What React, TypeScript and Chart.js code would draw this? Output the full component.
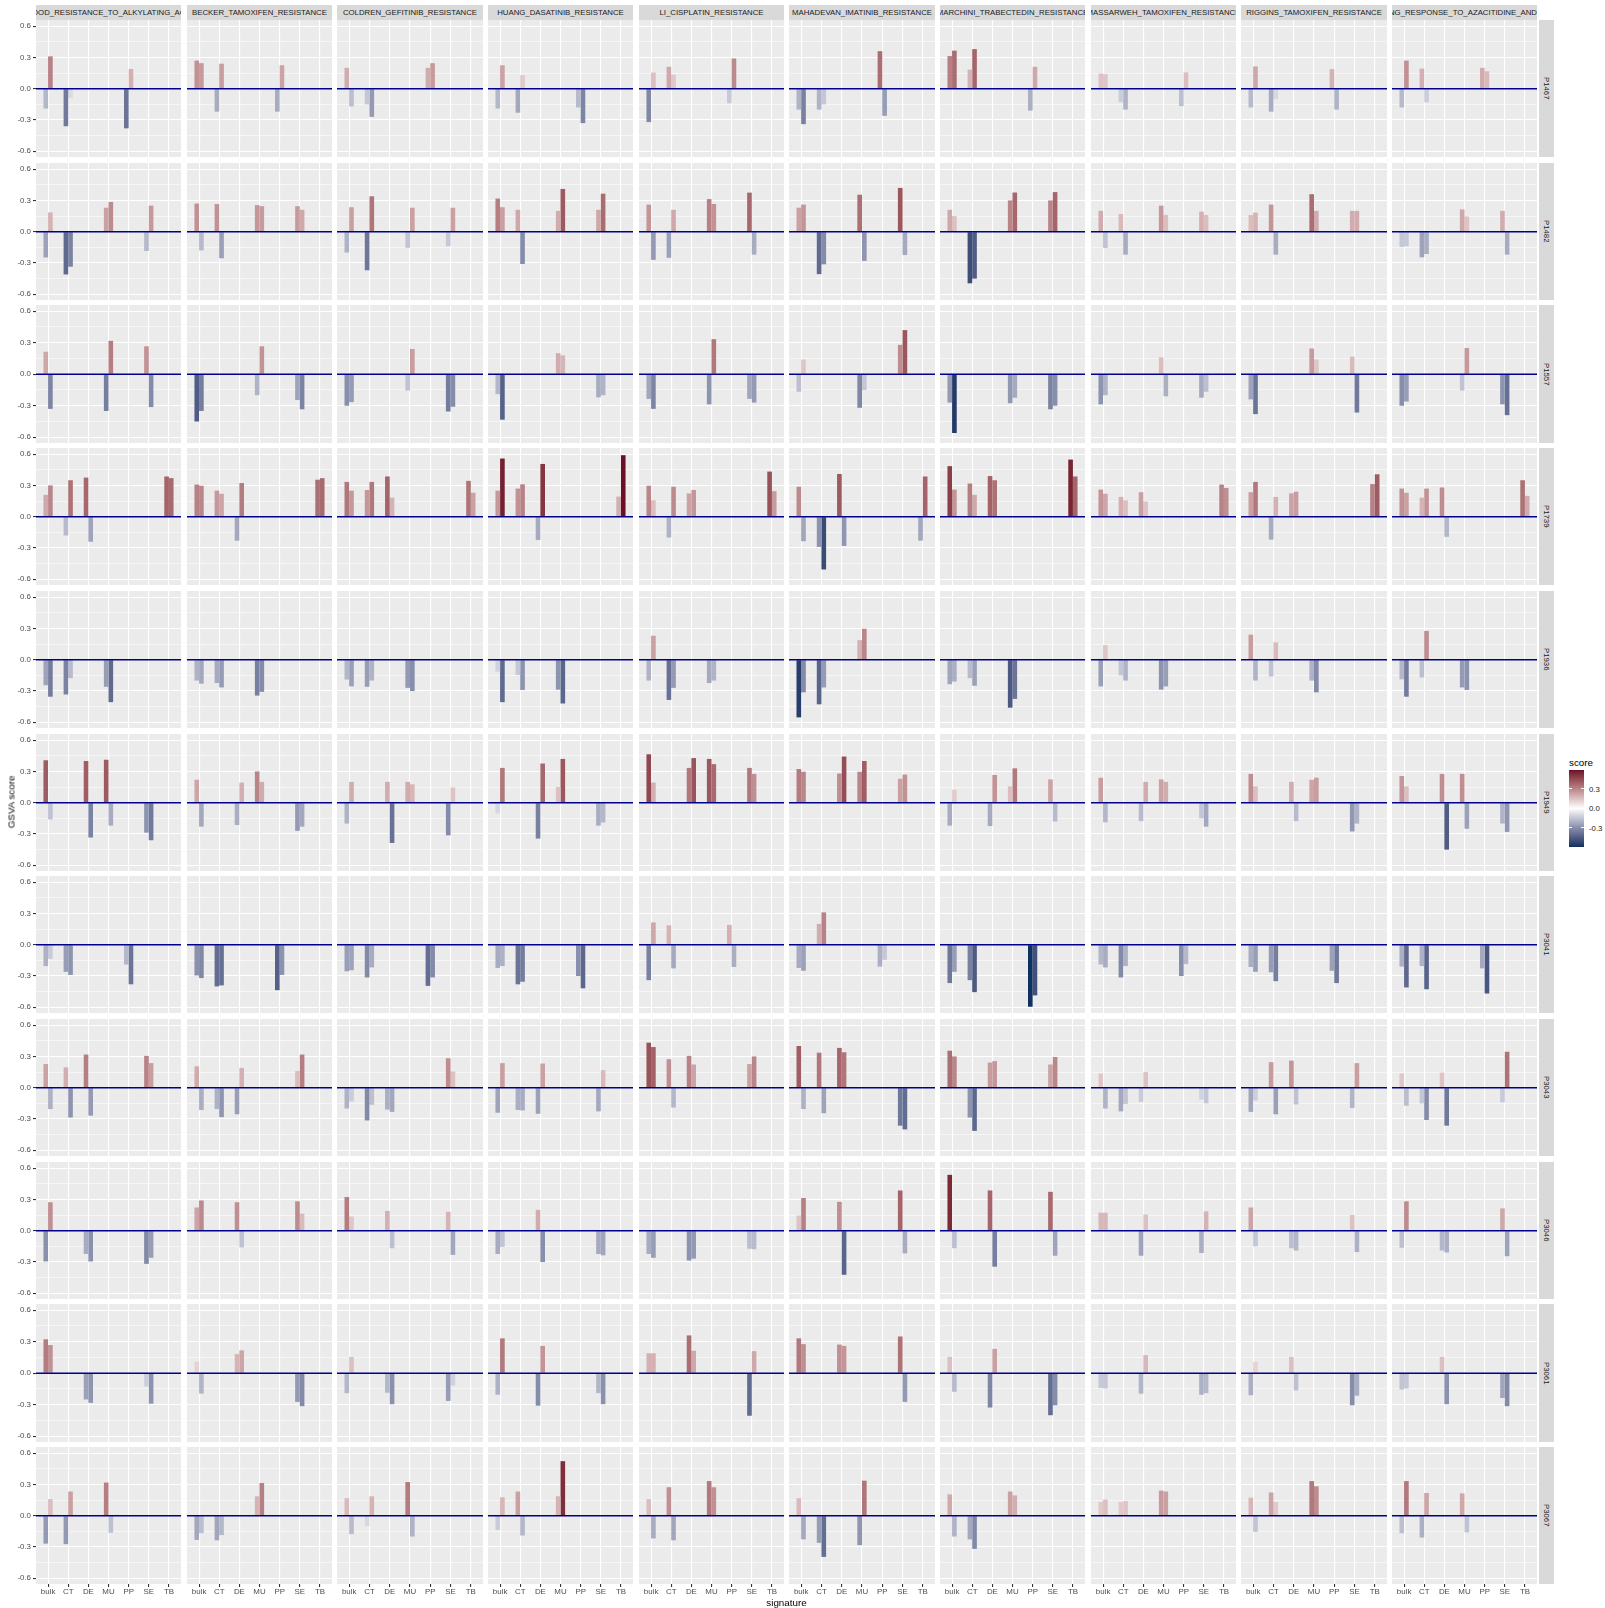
import React, { useEffect, useRef } from "react";
import { Chart, registerables } from "chart.js";

Chart.register(...registerables);

const FONT = "'Liberation Sans', Arial, Helvetica, sans-serif";

// ---------------- data ----------------
const SAMPLES = ["P1467", "P1482", "P1557", "P1739", "P1936", "P1949", "P3041", "P3043", "P3046", "P3061", "P3067"];
const SIGNATURES = [
  "IN_BLOOD_RESISTANCE_TO_ALKYLATING_AGENTS",
  "BECKER_TAMOXIFEN_RESISTANCE",
  "COLDREN_GEFITINIB_RESISTANCE",
  "HUANG_DASATINIB_RESISTANCE",
  "LI_CISPLATIN_RESISTANCE",
  "MAHADEVAN_IMATINIB_RESISTANCE",
  "MARCHINI_TRABECTEDIN_RESISTANCE",
  "MASSARWEH_TAMOXIFEN_RESISTANCE",
  "RIGGINS_TAMOXIFEN_RESISTANCE",
  "ZHONG_RESPONSE_TO_AZACITIDINE_AND_TSA",
];
const CATEGORIES = ["bulk", "CT", "DE", "MU", "PP", "SE", "TB"];
const Y_MAJOR_TICKS = [-0.6, -0.3, 0, 0.3, 0.6];
const Y_MINOR_TICKS = [-0.45, -0.15, 0.15, 0.45];
const LEGEND_TICKS = [0.3, 0, -0.3];

// each array: one row per sample (SAMPLES order), one value per category (CATEGORIES order)
// LEFT = first dodged bar, RIGHT = second dodged bar; 0 = no bar
const ALKYLATING_LEFT = [
  [-0.19, -0.36, 0, 0, -0.38, 0, 0],
  [-0.247, -0.41, 0, 0.23, 0, -0.185, 0],
  [0.214, 0, 0, -0.35, 0, 0.266, 0],
  [0.21, -0.18, 0.375, 0, 0, 0, 0.386],
  [-0.245, -0.334, 0, -0.26, 0, 0, 0],
  [0.407, 0, 0.4, 0.412, 0, -0.287, 0],
  [-0.205, -0.26, 0, 0, -0.19, 0, 0],
  [0.227, 0.195, 0.318, 0, 0, 0.305, 0],
  [-0.295, 0, -0.223, 0, 0, -0.318, 0],
  [0.323, 0, -0.25, 0, 0, -0.127, 0],
  [-0.268, -0.273, 0, 0.318, 0, 0, 0],
];
const ALKYLATING_RIGHT = [
  [0.31, -0.09, 0, 0, 0.19, 0, 0],
  [0.185, -0.336, 0, 0.285, 0, 0.25, 0],
  [-0.33, 0, 0, 0.318, 0, -0.313, 0],
  [0.3, 0.35, -0.24, 0, 0, 0, 0.37],
  [-0.355, -0.177, 0, -0.407, 0, 0, 0],
  [-0.16, 0, -0.334, -0.22, 0, -0.36, 0],
  [-0.136, -0.29, 0, 0, -0.38, 0, 0],
  [-0.205, -0.286, -0.268, 0, 0, 0.236, 0],
  [0.273, 0, -0.295, 0, 0, -0.26, 0],
  [0.268, 0, -0.282, 0, 0, -0.29, 0],
  [0.159, 0.232, 0, -0.164, 0, 0, 0],
];
const BECKER_LEFT = [
  [0.27, -0.22, 0, 0, -0.22, 0, 0],
  [0.27, 0.265, 0, 0.255, 0, 0.245, 0],
  [-0.45, 0, 0, -0.2, 0, -0.245, 0],
  [0.308, 0.25, -0.23, 0, 0, 0, 0.355],
  [-0.2, -0.224, 0, -0.344, 0, 0, 0],
  [0.22, 0, -0.214, 0.3, 0, -0.27, 0],
  [-0.295, -0.4, 0, 0, -0.436, 0, 0],
  [0.205, -0.205, -0.255, 0, 0, 0.16, 0],
  [0.223, 0, 0.273, 0, 0, 0.282, 0],
  [0.109, 0, 0.182, 0, 0, -0.273, 0],
  [-0.232, -0.236, 0, 0.186, 0, 0, 0],
];
const BECKER_RIGHT = [
  [0.245, 0.24, 0, 0, 0.225, 0, 0],
  [-0.18, -0.255, 0, 0.245, 0, 0.21, 0],
  [-0.35, 0, 0, 0.266, 0, -0.334, 0],
  [0.297, 0.22, 0.323, 0, 0, 0, 0.37],
  [-0.23, -0.266, 0, -0.308, 0, 0, 0],
  [-0.23, 0, 0.193, 0.2, 0, -0.23, 0],
  [-0.32, -0.39, 0, 0, -0.29, 0, 0],
  [-0.214, -0.282, 0.19, 0, 0, 0.318, 0],
  [0.29, 0, -0.16, 0, 0, 0.164, 0],
  [-0.195, 0, 0.218, 0, 0, -0.314, 0],
  [-0.168, -0.186, 0, 0.314, 0, 0, 0],
];
const COLDREN_LEFT = [
  [0.2, -0.15, 0, 0, 0.2, 0, 0],
  [-0.2, -0.37, 0, -0.155, 0, -0.14, 0],
  [-0.3, 0, 0, -0.156, 0, -0.355, 0],
  [0.334, 0.256, 0.386, 0, 0, 0, 0.344],
  [-0.19, -0.26, 0, -0.27, 0, 0, 0],
  [-0.2, 0, 0.2, 0.2, 0, -0.313, 0],
  [-0.255, -0.314, 0, 0, -0.395, 0, 0],
  [-0.2, -0.314, -0.21, 0, 0, 0.282, 0],
  [0.323, 0, 0.19, 0, 0, 0.182, 0],
  [-0.19, 0, -0.186, 0, 0, -0.264, 0],
  [0.168, -0.1, 0, 0.323, 0, 0, 0],
];
const COLDREN_RIGHT = [
  [-0.17, -0.27, 0, 0, 0.245, 0, 0],
  [0.235, 0.34, 0, 0.23, 0, 0.23, 0],
  [-0.266, 0, 0, 0.24, 0, -0.31, 0],
  [0.25, 0.334, 0.183, 0, 0, 0, 0.23],
  [-0.256, -0.2, 0, -0.3, 0, 0, 0],
  [0.2, 0, -0.386, 0.177, 0, 0.146, 0],
  [-0.245, -0.218, 0, 0, -0.314, 0, 0],
  [-0.132, -0.164, -0.232, 0, 0, 0.155, 0],
  [0.136, 0, -0.168, 0, 0, -0.232, 0],
  [0.155, 0, -0.295, 0, 0, -0.118, 0],
  [-0.177, 0.186, 0, -0.2, 0, 0, 0],
];
const HUANG_LEFT = [
  [-0.19, -0.23, 0, 0, -0.18, 0, 0],
  [0.318, 0.21, 0, 0.2, 0, 0.21, 0],
  [-0.19, 0, 0, 0.2, 0, -0.22, 0],
  [0.25, 0.27, -0.224, 0, 0, 0, 0.193],
  [-0.115, -0.146, 0, -0.287, 0, 0, 0],
  [-0.104, 0, -0.344, 0.15, 0, -0.22, 0],
  [-0.223, -0.38, 0, 0, -0.3, 0, 0],
  [-0.24, -0.214, -0.25, 0, 0, -0.227, 0],
  [-0.223, 0, 0.2, 0, 0, -0.223, 0],
  [-0.205, 0, -0.309, 0, 0, -0.19, 0],
  [-0.136, 0.232, 0, 0.186, 0, 0, 0],
];
const HUANG_RIGHT = [
  [0.225, 0.13, 0, 0, -0.33, 0, 0],
  [0.235, -0.31, 0, 0.41, 0, 0.365, 0],
  [-0.433, 0, 0, 0.18, 0, -0.2, 0],
  [0.558, 0.31, 0.506, 0, 0, 0, 0.59],
  [-0.407, -0.29, 0, -0.42, 0, 0, 0],
  [0.334, 0, 0.376, 0.42, 0, -0.19, 0],
  [-0.205, -0.355, 0, 0, -0.418, 0, 0],
  [0.236, -0.218, 0.232, 0, 0, 0.168, 0],
  [-0.155, 0, -0.3, 0, 0, -0.236, 0],
  [0.332, 0, 0.26, 0, 0, -0.295, 0],
  [0.177, -0.19, 0, 0.523, 0, 0, 0],
];
const LI_LEFT = [
  [-0.32, 0.21, 0, 0, -0.14, 0, 0],
  [0.26, -0.25, 0, 0.313, 0, 0.375, 0],
  [-0.235, 0, 0, -0.287, 0, -0.235, 0],
  [0.297, -0.2, 0.224, 0, 0, 0, 0.433],
  [-0.2, -0.386, 0, -0.224, 0, 0, 0],
  [0.464, 0, 0.334, 0.42, 0, 0.334, 0],
  [-0.34, 0.186, 0, 0, 0.19, 0, 0],
  [0.432, 0.273, 0.305, 0, 0, 0.227, 0],
  [-0.223, 0, -0.286, 0, 0, -0.173, 0],
  [0.19, 0, 0.36, 0, 0, -0.405, 0],
  [0.159, 0.273, 0, 0.332, 0, 0, 0],
];
const LI_RIGHT = [
  [0.155, 0.135, 0, 0, 0.29, 0, 0],
  [-0.27, 0.21, 0, 0.266, 0, -0.22, 0],
  [-0.33, 0, 0, 0.334, 0, -0.27, 0],
  [0.157, 0.287, 0.256, 0, 0, 0, 0.245],
  [0.23, -0.27, 0, -0.2, 0, 0, 0],
  [0.193, 0, 0.428, 0.37, 0, 0.276, 0],
  [0.214, -0.227, 0, 0, -0.214, 0, 0],
  [0.39, -0.19, 0.223, 0, 0, 0.3, 0],
  [-0.26, 0, -0.268, 0, 0, -0.177, 0],
  [0.19, 0, 0.214, 0, 0, 0.21, 0],
  [-0.218, -0.236, 0, 0.273, 0, 0, 0],
];
const MAHADEVAN_LEFT = [
  [-0.2, -0.2, 0, 0, 0.36, 0, 0],
  [0.23, -0.407, 0, 0.355, 0, 0.42, 0],
  [-0.167, 0, 0, -0.32, 0, 0.28, 0],
  [0.287, -0.29, 0.41, 0, 0, 0, -0.23],
  [-0.553, -0.428, 0, 0.188, 0, 0, 0],
  [0.323, 0, 0.28, 0.297, 0, 0.23, 0],
  [-0.223, 0.2, 0, 0, -0.21, 0, 0],
  [0.4, 0.336, 0.382, 0, 0, -0.364, 0],
  [0.145, 0, 0.277, 0, 0, 0.386, 0],
  [0.332, 0, 0.273, 0, 0, 0.35, 0],
  [0.168, -0.26, 0, -0.282, 0, 0, 0],
];
const MAHADEVAN_RIGHT = [
  [-0.34, -0.15, 0, 0, -0.26, 0, 0],
  [0.26, -0.313, 0, -0.28, 0, -0.224, 0],
  [0.14, 0, 0, -0.15, 0, 0.42, 0],
  [-0.235, -0.506, -0.28, 0, 0, 0, 0.386],
  [-0.313, -0.266, 0, 0.297, 0, 0, 0],
  [0.297, 0, 0.443, 0.4, 0, 0.27, 0],
  [-0.25, 0.31, 0, 0, -0.145, 0, 0],
  [-0.205, -0.245, 0.34, 0, 0, -0.4, 0],
  [0.314, 0, -0.423, 0, 0, -0.218, 0],
  [0.277, 0, 0.26, 0, 0, -0.273, 0],
  [-0.227, -0.395, 0, 0.336, 0, 0, 0],
];
const MARCHINI_LEFT = [
  [0.313, 0.183, 0, 0, -0.21, 0, 0],
  [0.21, -0.495, 0, 0.3, 0, 0.3, 0],
  [-0.27, 0, 0, -0.276, 0, -0.334, 0],
  [0.485, 0.318, 0.39, 0, 0, 0, 0.548],
  [-0.235, -0.177, 0, -0.46, 0, 0, 0],
  [-0.22, 0, -0.224, 0.156, 0, 0.224, 0],
  [-0.368, -0.34, 0, 0, -0.595, 0, 0],
  [0.355, -0.286, 0.241, 0, 0, 0.223, 0],
  [0.536, 0, 0.386, 0, 0, 0.373, 0],
  [0.155, 0, -0.327, 0, 0, -0.4, 0],
  [0.205, -0.227, 0, 0.232, 0, 0, 0],
];
const MARCHINI_RIGHT = [
  [0.365, 0.38, 0, 0, 0.21, 0, 0],
  [0.15, -0.45, 0, 0.376, 0, 0.38, 0],
  [-0.56, 0, 0, -0.224, 0, -0.3, 0],
  [0.26, 0.21, 0.35, 0, 0, 0, 0.386],
  [-0.21, -0.25, 0, -0.376, 0, 0, 0],
  [0.125, 0, 0.266, 0.33, 0, -0.18, 0],
  [-0.26, -0.455, 0, 0, -0.486, 0, 0],
  [0.3, -0.414, 0.255, 0, 0, 0.295, 0],
  [-0.168, 0, -0.345, 0, 0, -0.24, 0],
  [-0.177, 0, 0.232, 0, 0, -0.305, 0],
  [-0.2, -0.318, 0, 0.195, 0, 0, 0],
];
const MASSARWEH_LEFT = [
  [0.146, -0.13, 0, 0, -0.167, 0, 0],
  [0.2, 0.17, 0, 0.25, 0, 0.193, 0],
  [-0.287, 0, 0, 0.16, 0, -0.224, 0],
  [0.26, 0.19, 0.235, 0, 0, 0, 0.308],
  [-0.256, -0.15, 0, -0.287, 0, 0, 0],
  [0.24, 0, -0.177, 0.224, 0, -0.15, 0],
  [-0.19, -0.314, 0, 0, -0.3, 0, 0],
  [0.136, -0.227, -0.136, 0, 0, -0.114, 0],
  [0.173, 0, -0.24, 0, 0, -0.214, 0],
  [-0.141, 0, -0.195, 0, 0, -0.205, 0],
  [0.132, 0.132, 0, 0.241, 0, 0, 0],
];
const MASSARWEH_RIGHT = [
  [0.14, -0.2, 0, 0, 0.156, 0, 0],
  [-0.156, -0.22, 0, 0.16, 0, 0.16, 0],
  [-0.2, 0, 0, -0.21, 0, -0.167, 0],
  [0.22, 0.156, 0.146, 0, 0, 0, 0.276],
  [0.14, -0.2, 0, -0.256, 0, 0, 0],
  [-0.188, 0, 0.2, 0.2, 0, -0.23, 0],
  [-0.218, -0.205, 0, 0, -0.186, 0, 0],
  [-0.2, -0.155, 0.15, 0, 0, -0.15, 0],
  [0.173, 0, 0.155, 0, 0, 0.186, 0],
  [-0.145, 0, 0.173, 0, 0, -0.19, 0],
  [0.155, 0.141, 0, 0.232, 0, 0, 0],
];
const RIGGINS_LEFT = [
  [-0.18, -0.22, 0, 0, 0.188, 0, 0],
  [0.16, 0.26, 0, 0.36, 0, 0.2, 0],
  [-0.24, 0, 0, 0.245, 0, 0.167, 0],
  [0.235, -0.22, 0.224, 0, 0, 0, 0.313],
  [0.24, -0.16, 0, -0.2, 0, 0, 0],
  [0.276, 0, 0.2, 0.22, 0, -0.276, 0],
  [-0.214, -0.264, 0, 0, -0.25, 0, 0],
  [-0.232, 0.245, 0.26, 0, 0, -0.195, 0],
  [0.223, 0, -0.168, 0, 0, 0.15, 0],
  [-0.21, 0, 0.155, 0, 0, -0.305, 0],
  [0.173, 0.223, 0, 0.332, 0, 0, 0],
];
const RIGGINS_RIGHT = [
  [0.214, -0.1, 0, 0, -0.2, 0, 0],
  [0.183, -0.22, 0, 0.2, 0, 0.2, 0],
  [-0.38, 0, 0, 0.14, 0, -0.365, 0],
  [0.334, 0.19, 0.24, 0, 0, 0, 0.407],
  [-0.2, 0.167, 0, -0.313, 0, 0, 0],
  [0.156, 0, -0.177, 0.24, 0, -0.2, 0],
  [-0.26, -0.35, 0, 0, -0.368, 0, 0],
  [-0.123, -0.255, -0.16, 0, 0, 0.236, 0],
  [-0.15, 0, -0.19, 0, 0, -0.205, 0],
  [0.109, 0, -0.164, 0, 0, -0.214, 0],
  [-0.155, 0.132, 0, 0.282, 0, 0, 0],
];
const ZHONG_LEFT = [
  [-0.18, 0.193, 0, 0, 0.2, 0, 0],
  [-0.146, -0.245, 0, 0.214, 0, 0.2, 0],
  [-0.3, 0, 0, -0.156, 0, -0.287, 0],
  [0.27, 0.183, 0.28, 0, 0, 0, 0.35],
  [-0.188, -0.17, 0, -0.266, 0, 0, 0],
  [0.256, 0, 0.276, 0.276, 0, -0.2, 0],
  [-0.21, -0.205, 0, 0, -0.227, 0, 0],
  [0.136, -0.15, 0.145, 0, 0, -0.14, 0],
  [-0.164, 0, -0.19, 0, 0, 0.214, 0],
  [-0.155, 0, 0.155, 0, 0, -0.236, 0],
  [-0.168, -0.209, 0, 0.214, 0, 0, 0],
];
const ZHONG_RIGHT = [
  [0.27, -0.13, 0, 0, 0.167, 0, 0],
  [-0.14, -0.214, 0, 0.146, 0, -0.22, 0],
  [-0.26, 0, 0, 0.25, 0, -0.39, 0],
  [0.23, 0.27, -0.193, 0, 0, 0, 0.2],
  [-0.355, 0.276, 0, -0.29, 0, 0, 0],
  [0.156, 0, -0.45, -0.25, 0, -0.28, 0],
  [-0.41, -0.427, 0, 0, -0.468, 0, 0],
  [-0.173, -0.31, -0.364, 0, 0, 0.345, 0],
  [0.282, 0, -0.209, 0, 0, -0.245, 0],
  [-0.145, 0, -0.295, 0, 0, -0.314, 0],
  [0.332, 0.218, 0, -0.159, 0, 0, 0],
];

const SIGNATURE_BARS = [
  [ALKYLATING_LEFT, ALKYLATING_RIGHT],
  [BECKER_LEFT, BECKER_RIGHT],
  [COLDREN_LEFT, COLDREN_RIGHT],
  [HUANG_LEFT, HUANG_RIGHT],
  [LI_LEFT, LI_RIGHT],
  [MAHADEVAN_LEFT, MAHADEVAN_RIGHT],
  [MARCHINI_LEFT, MARCHINI_RIGHT],
  [MASSARWEH_LEFT, MASSARWEH_RIGHT],
  [RIGGINS_LEFT, RIGGINS_RIGHT],
  [ZHONG_LEFT, ZHONG_RIGHT],
];

const ALL_VALUES = (SIGNATURE_BARS as any).flat(3) as number[];
const DATA_MAX = Math.max(...ALL_VALUES);
const DATA_MIN = Math.min(...ALL_VALUES);
const COLOR_LIMIT = Math.max(Math.abs(DATA_MAX), Math.abs(DATA_MIN));

// ---------------- colours (ggplot gradient2, Lab interpolation) ----------------
const LOW_COLOR = "#10305F";
const MID_COLOR = "#FFFFFF";
const HIGH_COLOR = "#6B0C25";

const WP = [0.95047, 1, 1.08883];
function hexToRgb(hex: string): number[] {
  const n = parseInt(hex.slice(1), 16);
  return [(n >> 16) & 255, (n >> 8) & 255, n & 255];
}
function toLinear(c: number) {
  const s = c / 255;
  return s <= 0.04045 ? s / 12.92 : Math.pow((s + 0.055) / 1.055, 2.4);
}
function fromLinear(c: number) {
  const s = c <= 0.0031308 ? 12.92 * c : 1.055 * Math.pow(c, 1 / 2.4) - 0.055;
  return Math.round(Math.min(1, Math.max(0, s)) * 255);
}
function labF(t: number) {
  return t > 216 / 24389 ? Math.cbrt(t) : ((24389 / 27) * t + 16) / 116;
}
function labFInv(t: number) {
  const t3 = t * t * t;
  return t3 > 216 / 24389 ? t3 : (116 * t - 16) / (24389 / 27);
}
function hexToLab(hex: string): number[] {
  const [r, g, b] = hexToRgb(hex).map(toLinear);
  const x = (0.4124564 * r + 0.3575761 * g + 0.1804375 * b) / WP[0];
  const y = (0.2126729 * r + 0.7151522 * g + 0.072175 * b) / WP[1];
  const z = (0.0193339 * r + 0.119192 * g + 0.9503041 * b) / WP[2];
  const fx = labF(x), fy = labF(y), fz = labF(z);
  return [116 * fy - 16, 500 * (fx - fy), 200 * (fy - fz)];
}
function labToCss(lab: number[]): string {
  const [L, a, b] = lab;
  const fy = (L + 16) / 116;
  const fx = fy + a / 500;
  const fz = fy - b / 200;
  const x = labFInv(fx) * WP[0], y = labFInv(fy) * WP[1], z = labFInv(fz) * WP[2];
  const r = 3.2404542 * x - 1.5371385 * y - 0.4985314 * z;
  const g = -0.969266 * x + 1.8760108 * y + 0.041556 * z;
  const bb = 0.0556434 * x - 0.2040259 * y + 1.0572252 * z;
  return "rgb(" + [r, g, bb].map(fromLinear).join(",") + ")";
}
const LOW_LAB = hexToLab(LOW_COLOR);
const MID_LAB = hexToLab(MID_COLOR);
const HIGH_LAB = hexToLab(HIGH_COLOR);
function scoreColor(v: number): string {
  const t = Math.max(-1, Math.min(1, v / COLOR_LIMIT));
  const end = t >= 0 ? HIGH_LAB : LOW_LAB;
  const k = Math.abs(t);
  return labToCss(MID_LAB.map((m, i) => m + (end[i] - m) * k));
}

// ---------------- layout ----------------
const PANEL_X0 = 36;
const COL_PITCH = 150.66;
const PANEL_W = 145.4;
const PANEL_Y0 = 20;
const ROW_PITCH = 142.7;
const PANEL_H = 137.2;
const BOTTOM_AXIS_H = 18;
const X_MIN = -0.6;
const X_MAX = CATEGORIES.length - 1 + 0.6;
const Y_MIN = -0.655;
const Y_MAX = 0.659;
const ZERO_LINE_COLOR = "#00008B";

const colLeft = (c: number) => Math.round(PANEL_X0 + c * COL_PITCH);
const colRight = (c: number) => Math.round(PANEL_X0 + c * COL_PITCH + PANEL_W);
const rowTop = (r: number) => Math.round(PANEL_Y0 + r * ROW_PITCH);
const rowBottom = (r: number) => Math.round(PANEL_Y0 + r * ROW_PITCH + PANEL_H);

const isMajorY = (v: number) => Y_MAJOR_TICKS.some((m) => Math.abs(m - v) < 1e-9);

const panelBackground = {
  id: "panelBackground",
  beforeDraw(chart: any) {
    const { ctx, chartArea } = chart;
    ctx.save();
    ctx.fillStyle = "#EBEBEB";
    ctx.fillRect(chartArea.left, chartArea.top, chartArea.right - chartArea.left, chartArea.bottom - chartArea.top);
    ctx.restore();
  },
};

function Panel({ r, c }: { r: number; c: number }) {
  const ref = useRef<HTMLCanvasElement>(null);
  const isLeft = c === 0;
  const isBottom = r === SAMPLES.length - 1;
  const canvasLeft = isLeft ? 0 : colLeft(c);
  const axisW = isLeft ? colLeft(c) : 0;
  const canvasTop = rowTop(r);
  const w = colRight(c) - canvasLeft;
  const panelH = rowBottom(r) - rowTop(r);
  const h = panelH + (isBottom ? BOTTOM_AXIS_H : 0);

  useEffect(() => {
    if (!ref.current) return;
    const [leftSeries, rightSeries] = SIGNATURE_BARS[c];
    const toPoints = (vals: number[]) => CATEGORIES.map((_, i) => ({ x: i, y: vals[i] === 0 ? null : vals[i] }));
    const barFill = (ctx: any) => scoreColor(ctx.raw && ctx.raw.y != null ? ctx.raw.y : 0);
    const tickFont = { family: FONT, size: 7.9 };
    const chart = new Chart(ref.current, {
      type: "bar",
      data: {
        datasets: [
          {
            type: "line",
            data: [
              { x: X_MIN, y: 0 },
              { x: X_MAX, y: 0 },
            ],
            borderColor: ZERO_LINE_COLOR,
            borderWidth: 1.4,
            pointRadius: 0,
            order: 0,
          } as any,
          {
            type: "bar",
            data: toPoints(leftSeries[r]),
            backgroundColor: barFill,
            borderWidth: 0,
            categoryPercentage: 0.46,
            barPercentage: 1,
            order: 1,
          } as any,
          {
            type: "bar",
            data: toPoints(rightSeries[r]),
            backgroundColor: barFill,
            borderWidth: 0,
            categoryPercentage: 0.46,
            barPercentage: 1,
            order: 1,
          } as any,
        ],
      },
      options: {
        animation: false,
        responsive: false,
        devicePixelRatio: 1,
        events: [],
        layout: { padding: 0 },
        plugins: { legend: { display: false }, tooltip: { enabled: false } },
        scales: {
          x: {
            type: "linear",
            min: X_MIN,
            max: X_MAX,
            offset: false,
            afterBuildTicks: (s: any) => {
              s.ticks = CATEGORIES.map((_, i) => ({ value: i }));
            },
            afterFit: (s: any) => {
              s.height = isBottom ? BOTTOM_AXIS_H : 0;
              s.paddingLeft = 0;
              s.paddingRight = 0;
              s.paddingTop = 0;
              s.paddingBottom = 0;
            },
            grid: {
              color: "#FFFFFF",
              lineWidth: 1.1,
              offset: false,
              drawTicks: isBottom,
              tickLength: 3,
              tickColor: "#333333",
              tickWidth: 1.1,
            },
            border: { display: false },
            ticks: {
              display: isBottom,
              autoSkip: false,
              maxRotation: 0,
              padding: 0,
              color: "#4D4D4D",
              font: tickFont,
              callback: (v: any) => CATEGORIES[Math.round(Number(v))] ?? "",
            },
          },
          y: {
            type: "linear",
            min: Y_MIN,
            max: Y_MAX,
            afterBuildTicks: (s: any) => {
              s.ticks = [...Y_MAJOR_TICKS, ...Y_MINOR_TICKS].sort((a, b) => a - b).map((v) => ({ value: v }));
            },
            afterFit: (s: any) => {
              s.width = axisW;
              s.paddingLeft = 0;
              s.paddingRight = 0;
              s.paddingTop = 0;
              s.paddingBottom = 0;
            },
            grid: {
              color: "#FFFFFF",
              lineWidth: (ctx: any) => (ctx.tick && isMajorY(ctx.tick.value) ? 1.1 : 0.55),
              drawTicks: isLeft,
              tickLength: 3,
              tickWidth: 1.1,
              tickColor: (ctx: any) => (ctx.tick && isMajorY(ctx.tick.value) ? "#333333" : "rgba(0,0,0,0)"),
            },
            border: { display: false },
            ticks: {
              display: isLeft,
              autoSkip: false,
              padding: 2,
              color: "#4D4D4D",
              font: tickFont,
              callback: (v: any) => (isMajorY(Number(v)) ? Number(v).toFixed(1) : ""),
            },
          },
        },
      } as any,
      plugins: [panelBackground],
    });
    return () => chart.destroy();
  }, [r, c]);

  return (
    <canvas
      ref={ref}
      width={w}
      height={h}
      style={{ position: "absolute", left: canvasLeft, top: canvasTop, width: w, height: h }}
    />
  );
}

function Legend() {
  const barLeft = 1569;
  const barTop = 770;
  const barW = 15;
  const barH = 77;
  const yOf = (v: number) => barTop + ((DATA_MAX - v) / (DATA_MAX - DATA_MIN)) * barH;
  const stops: string[] = [];
  const n = 30;
  for (let i = 0; i <= n; i++) {
    const v = DATA_MAX - ((DATA_MAX - DATA_MIN) * i) / n;
    stops.push(scoreColor(v) + " " + ((i / n) * 100).toFixed(2) + "%");
  }
  return (
    <>
      <div
        style={{
          position: "absolute",
          left: barLeft,
          top: 762,
          transform: "translateY(-50%)",
          fontSize: 9.8,
          color: "#000",
          whiteSpace: "nowrap",
        }}
      >
        score
      </div>
      <div
        style={{
          position: "absolute",
          left: barLeft,
          top: barTop,
          width: barW,
          height: barH,
          background: "linear-gradient(to bottom, " + stops.join(", ") + ")",
        }}
      />
      {LEGEND_TICKS.map((v) => (
        <React.Fragment key={"lt" + v}>
          <div style={{ position: "absolute", left: barLeft, top: yOf(v) - 0.5, width: 3, height: 1, background: "#fff" }} />
          <div
            style={{ position: "absolute", left: barLeft + barW - 3, top: yOf(v) - 0.5, width: 3, height: 1, background: "#fff" }}
          />
          <div
            style={{
              position: "absolute",
              left: barLeft + barW + 5,
              top: yOf(v),
              transform: "translateY(-50%)",
              fontSize: 7.8,
              color: "#1A1A1A",
              whiteSpace: "nowrap",
            }}
          >
            {v.toFixed(1)}
          </div>
        </React.Fragment>
      ))}
    </>
  );
}

export default function App() {
  const panelsLeft = colLeft(0);
  const panelsRight = colRight(SIGNATURES.length - 1);
  const panelsTop = rowTop(0);
  const panelsBottom = rowBottom(SAMPLES.length - 1);
  const stripX = panelsRight + 2;
  return (
    <div
      style={{
        position: "absolute",
        left: 0,
        top: 0,
        width: 1605,
        height: 1608,
        background: "#FFFFFF",
        fontFamily: FONT,
        overflow: "hidden",
      }}
    >
      {SIGNATURES.map((s, c) => (
        <div
          key={"sig" + c}
          style={{
            position: "absolute",
            left: colLeft(c),
            top: 5,
            width: colRight(c) - colLeft(c),
            height: panelsTop - 5,
            background: "#D9D9D9",
            overflow: "hidden",
            display: "flex",
            alignItems: "center",
            justifyContent: "center",
            fontSize: 7.8,
            color: "#1A1A1A",
            whiteSpace: "nowrap",
          }}
        >
          <span>{s}</span>
        </div>
      ))}
      {SAMPLES.map((s, r) => (
        <div
          key={"smp" + r}
          style={{
            position: "absolute",
            left: stripX,
            top: rowTop(r),
            width: 15,
            height: rowBottom(r) - rowTop(r),
            background: "#D9D9D9",
            overflow: "hidden",
            display: "flex",
            alignItems: "center",
            justifyContent: "center",
            fontSize: 7.8,
            color: "#1A1A1A",
            whiteSpace: "nowrap",
          }}
        >
          <span style={{ writingMode: "vertical-rl" }}>{s}</span>
        </div>
      ))}
      {SAMPLES.map((_, r) => SIGNATURES.map((__, c) => <Panel key={r + "-" + c} r={r} c={c} />))}
      <div
        style={{
          position: "absolute",
          left: 10.5,
          top: (panelsTop + panelsBottom) / 2,
          transform: "translate(-50%, -50%) rotate(-90deg)",
          fontSize: 9.8,
          color: "#000",
          whiteSpace: "nowrap",
        }}
      >
        GSVA score
      </div>
      <div
        style={{
          position: "absolute",
          left: (panelsLeft + panelsRight) / 2,
          top: 1602,
          transform: "translate(-50%, -50%)",
          fontSize: 9.8,
          color: "#000",
          whiteSpace: "nowrap",
        }}
      >
        signature
      </div>
      <Legend />
    </div>
  );
}
